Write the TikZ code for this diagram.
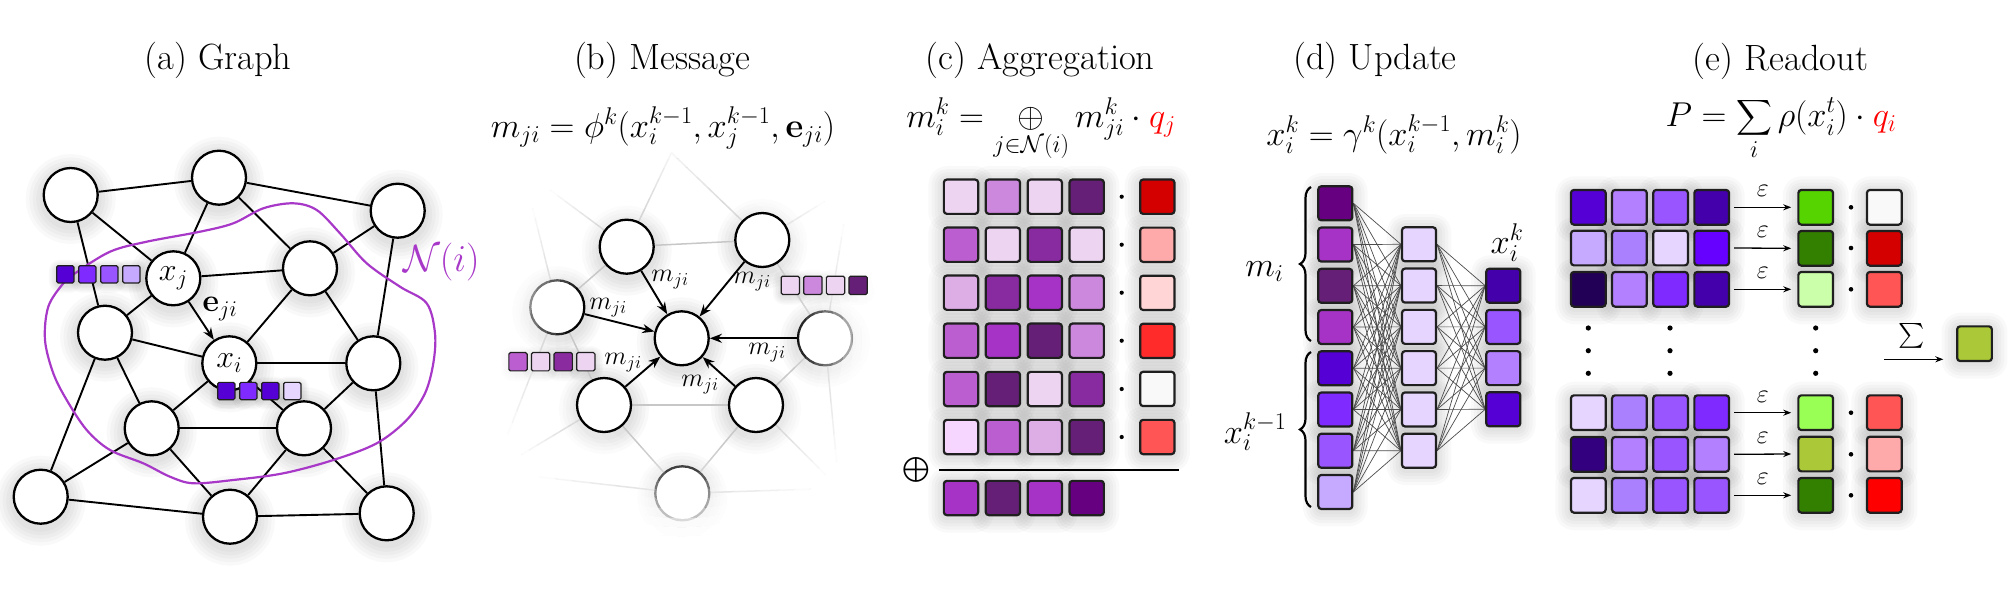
\RequirePackage{fix-cm}
\documentclass[tikz,border=0pt]{standalone}
\usepackage{amsmath}
\usetikzlibrary{arrows.meta,decorations.pathreplacing}
\pgfdeclarelayer{shadow}
\pgfdeclarelayer{edges}
\pgfsetlayers{shadow,edges,main}
\definecolor{npurple}{HTML}{A838C8}

\newcommand\halosq[3]{%
  \begin{pgfonlayer}{shadow}%
  \foreach \w in {0.9,0.72,0.54,0.36,0.18}{%
    \draw[black, draw opacity=0.022, line width={\w*#3*1pt}, line join=round, rounded corners=3pt]
      (#1-#3/2,#2-#3/2+2) rectangle (#1+#3/2,#2+#3/2+2);}%
  \end{pgfonlayer}}

\newcommand\sqline[8][]{%
  \foreach \cc [count=\jj] in {#8}{%
    \pgfmathsetmacro\xx{#3+(\jj-1)*(#5)}%
    \pgfmathsetmacro\yy{#4+(\jj-1)*(#6)}%
    \edef\tmp{\noexpand\definecolor{sqc}{HTML}{\cc}}\tmp
    \halosq{\xx}{\yy}{#7}%
    \node[sq, #1, minimum size=#7pt, fill=sqc] (#2\jj) at (\xx,\yy) {};
  }}

\newcommand\gnode[5][]{%
  \begin{pgfonlayer}{shadow}%
    \foreach \w in {36,29,22,15,8}{\draw[black, draw opacity=0.024, line width=\w pt] (#3,#4+4) circle (27pt);}%
  \end{pgfonlayer}%
  \node[gn,#1] (#2) at (#3,#4) {#5};}

\begin{document}
\begin{tikzpicture}[x=1pt,y=-1pt,
  gn/.style={circle, draw=black, line width=2.3pt, fill=white, minimum size=54pt, inner sep=0pt, font=\fontsize{32}{36}\selectfont},
  sq/.style={rectangle, draw=black!88, line width=2.2pt, rounded corners=3pt, inner sep=0pt},
  small/.style={line width=1.2pt, rounded corners=1.5pt},
  edge/.style={line width=1.9pt},
  gedge/.style={draw=black!22, line width=1.5pt},
  arr/.style={-{Stealth[length=12pt,width=9pt]}, line width=1.9pt},
  arrs/.style={-{Stealth[length=8pt,width=6pt]}, line width=1.3pt},
  nn/.style={draw=black!70, line width=0.7pt},
  brc/.style={decorate, decoration={brace, amplitude=11pt}, line width=2.2pt},
  title/.style={font=\fontsize{36.5}{42}\selectfont, anchor=base},
  fml/.style={font=\fontsize{34.5}{40}\selectfont, anchor=base},
  lab/.style={font=\fontsize{26}{30}\selectfont, inner sep=1pt},
  lab2/.style={font=\fontsize{32}{36}\selectfont, inner sep=1pt}]
\useasboundingbox (0,0) rectangle (2011,590);

%% ---------------- (a) Graph ----------------
\gnode{a1}{70.7}{195}{}
\gnode{a2}{219}{177.7}{}
\gnode{a3}{397.7}{210.7}{}
\gnode{aj}{173.3}{278.3}{$x_j$}
\gnode{a5}{310}{268.3}{}
\gnode{a6}{105}{332.7}{}
\gnode{ai}{229.3}{363.3}{$x_i$}
\gnode{a8}{373.3}{363.3}{}
\gnode{a9}{151.7}{428.3}{}
\gnode{a10}{304}{428.3}{}
\gnode{a11}{40.7}{496.7}{}
\gnode{a12}{230}{516.7}{}
\gnode{a13}{386.7}{513.3}{}
\begin{pgfonlayer}{edges}
\foreach \u/\v in {a1/a2,a2/a3,a1/aj,a1/a6,a2/aj,a2/a5,a3/a5,a3/a8,aj/a5,aj/a6,a5/ai,a5/a8,a6/ai,a6/a9,a6/a11,ai/a8,ai/a9,ai/a10,a8/a10,a8/a13,a9/a10,a9/a11,a9/a12,a10/a12,a10/a13,a11/a12,a12/a13}
  \draw[edge] (\u) -- (\v);
\draw[npurple, line width=2.2pt] plot[smooth cycle, tension=0.55] coordinates {
 (75,273.3) (110,251.7) (146.7,241.7) (200,231.7) (233.3,223.3) (263.3,208.3) (293.3,203.3)
 (316.7,210) (340,233.3) (366.7,263.3) (400,286.7) (426.7,303.3) (435,333.3) (433.3,363.3)
 (425,393.3) (406.7,420) (376.7,443.3) (333.3,460) (283.3,473.3) (233.3,480) (193.3,483.3)
 (170,476.7) (143.3,463.3) (110,450) (86.7,430) (66.7,400) (53.3,373.3) (45,340) (48.3,306.7) (63.3,283.3)};
\end{pgfonlayer}
\draw[arr] (aj) -- (ai);
\node[lab2] (eji) at (220,309) {$\mathbf{e}_{ji}$};
\sqline[small]{asj}{65.3}{274.3}{22}{0}{17.3}{5500D4,7F2AFF,9955FF,C6AAFF}
\sqline[small]{asi}{226.3}{391}{22}{0}{17.3}{5500D4,7F2AFF,5500D4,E5D5FF}

%% ---------------- (b) Message ----------------
\gnode{b6}{557.3}{307.3}{}
\gnode{b8}{825}{338.3}{}
\gnode{b12}{682.3}{493.3}{}
\coordinate (b1) at (523.1,170);
\coordinate (b2) at (671.4,152.7);
\coordinate (b3) at (850.1,185.7);
\coordinate (b11) at (493.1,471.7);
\coordinate (b13) at (839.1,488.3);
\coordinate (bc) at (681.7,338.3);
% radial fade-out of the surrounding graph
\foreach \k in {0,...,9}{%
  \pgfmathsetmacro\ra{108+\k*9}\pgfmathsetmacro\rb{\ra+9}\pgfmathsetmacro\op{(\k+0.5)/10}%
  \fill[white, fill opacity=\op, even odd rule] (bc) circle (\ra pt) circle (\rb pt);}
\fill[white, even odd rule] (bc) circle (198pt) circle (236pt);
\gnode{bj}{626.7}{246.7}{}
\gnode{b5}{762.3}{240}{}
\gnode{b9}{604}{405}{}
\gnode{b10}{756}{405}{}
\gnode{bi}{681.7}{338.3}{}
\begin{pgfonlayer}{edges}
\foreach \u/\v in {bj/b5,bj/b6,b5/b8,b6/b9,b9/b10,b8/b10,b9/b12,b10/b12,bj/b1,bj/b2,b5/b2,b5/b3,b6/b1,b6/b11,b8/b3,b8/b13,b9/b11,b10/b13,b12/b11,b12/b13}
  \draw[gedge] (\u) -- (\v);
\end{pgfonlayer}
\foreach \s in {bj,b5,b6,b8,b9,b10} \draw[arr] (\s) -- (bi);
\node[lab] (m1) at (670,280) {$m_{ji}$};
\node[lab] (m2) at (752,282) {$m_{ji}$};
\node[lab] (m3) at (608,308) {$m_{ji}$};
\node[lab] (m4) at (767,353) {$m_{ji}$};
\node[lab] (m5) at (623,363) {$m_{ji}$};
\node[lab] (m6) at (700,385) {$m_{ji}$};
\sqline[small]{bsr}{790.3}{285.3}{22.6}{0}{18.3}{EDD5F2,CC88DD,EDD5F2,661F77}
\sqline[small]{bsl}{518}{361.7}{22.6}{0}{18.3}{BB5ECF,EDD5F2,8A2BA0,EDD5F2}

%% ---------------- (c) Aggregation ----------------
\sqline{c1}{961}{196.7}{41.9}{0}{34.3}{EDD5F2,CC88DD,EDD5F2,661F77}
\sqline{c2}{961}{244.7}{41.9}{0}{34.3}{BB5ECF,EDD5F2,882AA0,EDD5F2}
\sqline{c3}{961}{292.7}{41.9}{0}{34.3}{DDAEE6,882AA0,A733C6,CC88DD}
\sqline{c4}{961}{340.7}{41.9}{0}{34.3}{BB5ECF,A733C6,661F77,CC88DD}
\sqline{c5}{961}{389}{41.9}{0}{34.3}{BB5ECF,661F77,EDD5F2,882AA0}
\sqline{c6}{961}{437}{41.9}{0}{34.3}{F6D5FF,BB5ECF,DDAEE6,661F77}
\sqline{cr}{1157.3}{196.7}{0}{48.06}{34.3}{D40000,FFAAAA,FFD5D5,FF2A2A,F9F9F9,FF5555}
\sqline{cres}{961}{498}{41.9}{0}{34.3}{A733C6,661F77,A733C6,660080}
\foreach \y in {196.7,244.7,292.7,340.7,389,437} \fill (1121.7,\y) circle (2.1pt);
\coordinate (cl1) at (939.3,470);
\coordinate (cl2) at (1179.3,470);
\draw[line width=2.4pt] (cl1) -- (cl2);
\node[font=\fontsize{34.5}{40}\selectfont, inner sep=0pt] (coplus) at (916.7,470) {$\bigoplus$};

%% ---------------- (d) Update ----------------
\sqline{dl}{1335.3}{203.3}{0}{41.24}{34}{660080,A733C6,661F77,A733C6,5500D4,7F2AFF,9955FF,C6AAFF}
\sqline{dm}{1419}{244.3}{0}{41.28}{34}{E5D5FF,E5D5FF,E5D5FF,E5D5FF,E5D5FF,E5D5FF}
\sqline{dr}{1503.3}{285.7}{0}{41.2}{34}{4400AA,9955FF,B380FF,5500D4}
\begin{pgfonlayer}{edges}
\foreach \i in {1,...,8} \foreach \j in {1,...,6} \draw[nn] (dl\i.east) -- (dm\j.west);
\foreach \i in {1,...,6} \foreach \j in {1,...,4} \draw[nn] (dm\i.east) -- (dr\j.west);
\end{pgfonlayer}
\coordinate (bu1) at (1311,341);
\coordinate (bu2) at (1311,187);
\coordinate (bl1) at (1311,507);
\coordinate (bl2) at (1311,352);
\draw[brc] (bu1) -- (bu2);
\draw[brc] (bl1) -- (bl2);
\node[fml, anchor=base east] (dmi) at (1287,276) {$m_i$};
\node[fml, anchor=base east] (dxk) at (1290,443) {$x_i^{k-1}$};
\node[fml] (dxo) at (1507,253) {$x_i^k$};

%% ---------------- (e) Readout ----------------
\sqline{e1}{1588.3}{207.3}{41.13}{0}{34.7}{5500D4,B380FF,9955FF,4400AA}
\sqline{e2}{1588.3}{248}{41.13}{0}{34.7}{C6AAFF,AA80FF,E5D5FF,6600FF}
\sqline{e3}{1588.3}{289.3}{41.13}{0}{34.7}{220055,B380FF,7F2AFF,4400AA}
\sqline{e4}{1588.3}{412.7}{41.13}{0}{34.7}{E5D5FF,AA80FF,9955FF,7F2AFF}
\sqline{e5}{1588.3}{454.3}{41.13}{0}{34.7}{330080,B380FF,9955FF,B380FF}
\sqline{e6}{1588.3}{495.3}{41.13}{0}{34.7}{E5D5FF,AA80FF,9955FF,9955FF}
\sqline{egt}{1815.7}{207.3}{0}{41}{34.7}{55D400,338000,CCFFAA}
\sqline{egb}{1815.7}{412.7}{0}{41.3}{34.7}{99FF55,AAC837,338000}
\sqline{ert}{1884.3}{207.3}{0}{41}{34.7}{F9F9F9,D40000,FF5555}
\sqline{erb}{1884.3}{412.7}{0}{41.3}{34.7}{FF5555,FFAAAA,FF0000}
\sqline{efin}{1974.5}{343.7}{0}{0}{34.7}{AAC837}
\foreach \r/\g in {e14/egt1,e24/egt2,e34/egt3,e44/egb1,e54/egb2,e64/egb3}
  \draw[arrs] ([xshift=4pt]\r.east) -- ([xshift=-6pt]\g.west) node[lab, midway, above=9pt] (eps\r) {$\varepsilon$};
\foreach \y in {207.3,248,289.3,412.7,454.3,495.3} \fill (1851,\y) circle (2.3pt);
\foreach \x in {1588.3,1670,1815.7} \foreach \y in {328,350.7,373.3} \fill (\x,\y) circle (2.6pt);
\coordinate (sigS) at (1884,359.3);
\coordinate (sigE) at (1943.3,359.3);
\draw[arrs] (sigS) -- (sigE);
\node[lab] (sig) at (1911.7,336) {$\sum$};

%% ---------------- texts ----------------
\node[font=\fontsize{38}{44}\selectfont, text=npurple, anchor=west, inner sep=0pt] (nlab) at (403,262) {$\mathcal{N}(i)$};
\node[title] (ta) at (218,69) {(a) Graph};
\node[title] (tb) at (662,69) {(b) Message};
\node[title] (tc) at (1040,69) {(c) Aggregation};
\node[title] (td) at (1375,69) {(d) Update};
\node[title] (te) at (1780.5,70) {(e) Readout};
\node[fml] (fb) at (663,137) {$m_{ji} = \phi^k(x_i^{k-1}, x_j^{k-1}, \mathbf{e}_{ji})$};
\node[fml] (fc) at (1041,127) {$m_i^k = \mathop{\oplus}\limits_{j\in\mathcal{N}(i)} m_{ji}^k\cdot\textcolor{red}{q_j}$};
\node[fml] (fd) at (1394,145) {$x_i^k = \gamma^k(x_i^{k-1}, m_i^k)$};
\node[fml] (fe) at (1781,126.5) {$\displaystyle P = \sum_i \rho(x_i^t)\cdot\textcolor{red}{q_i}$};
\end{tikzpicture}
\end{document}
